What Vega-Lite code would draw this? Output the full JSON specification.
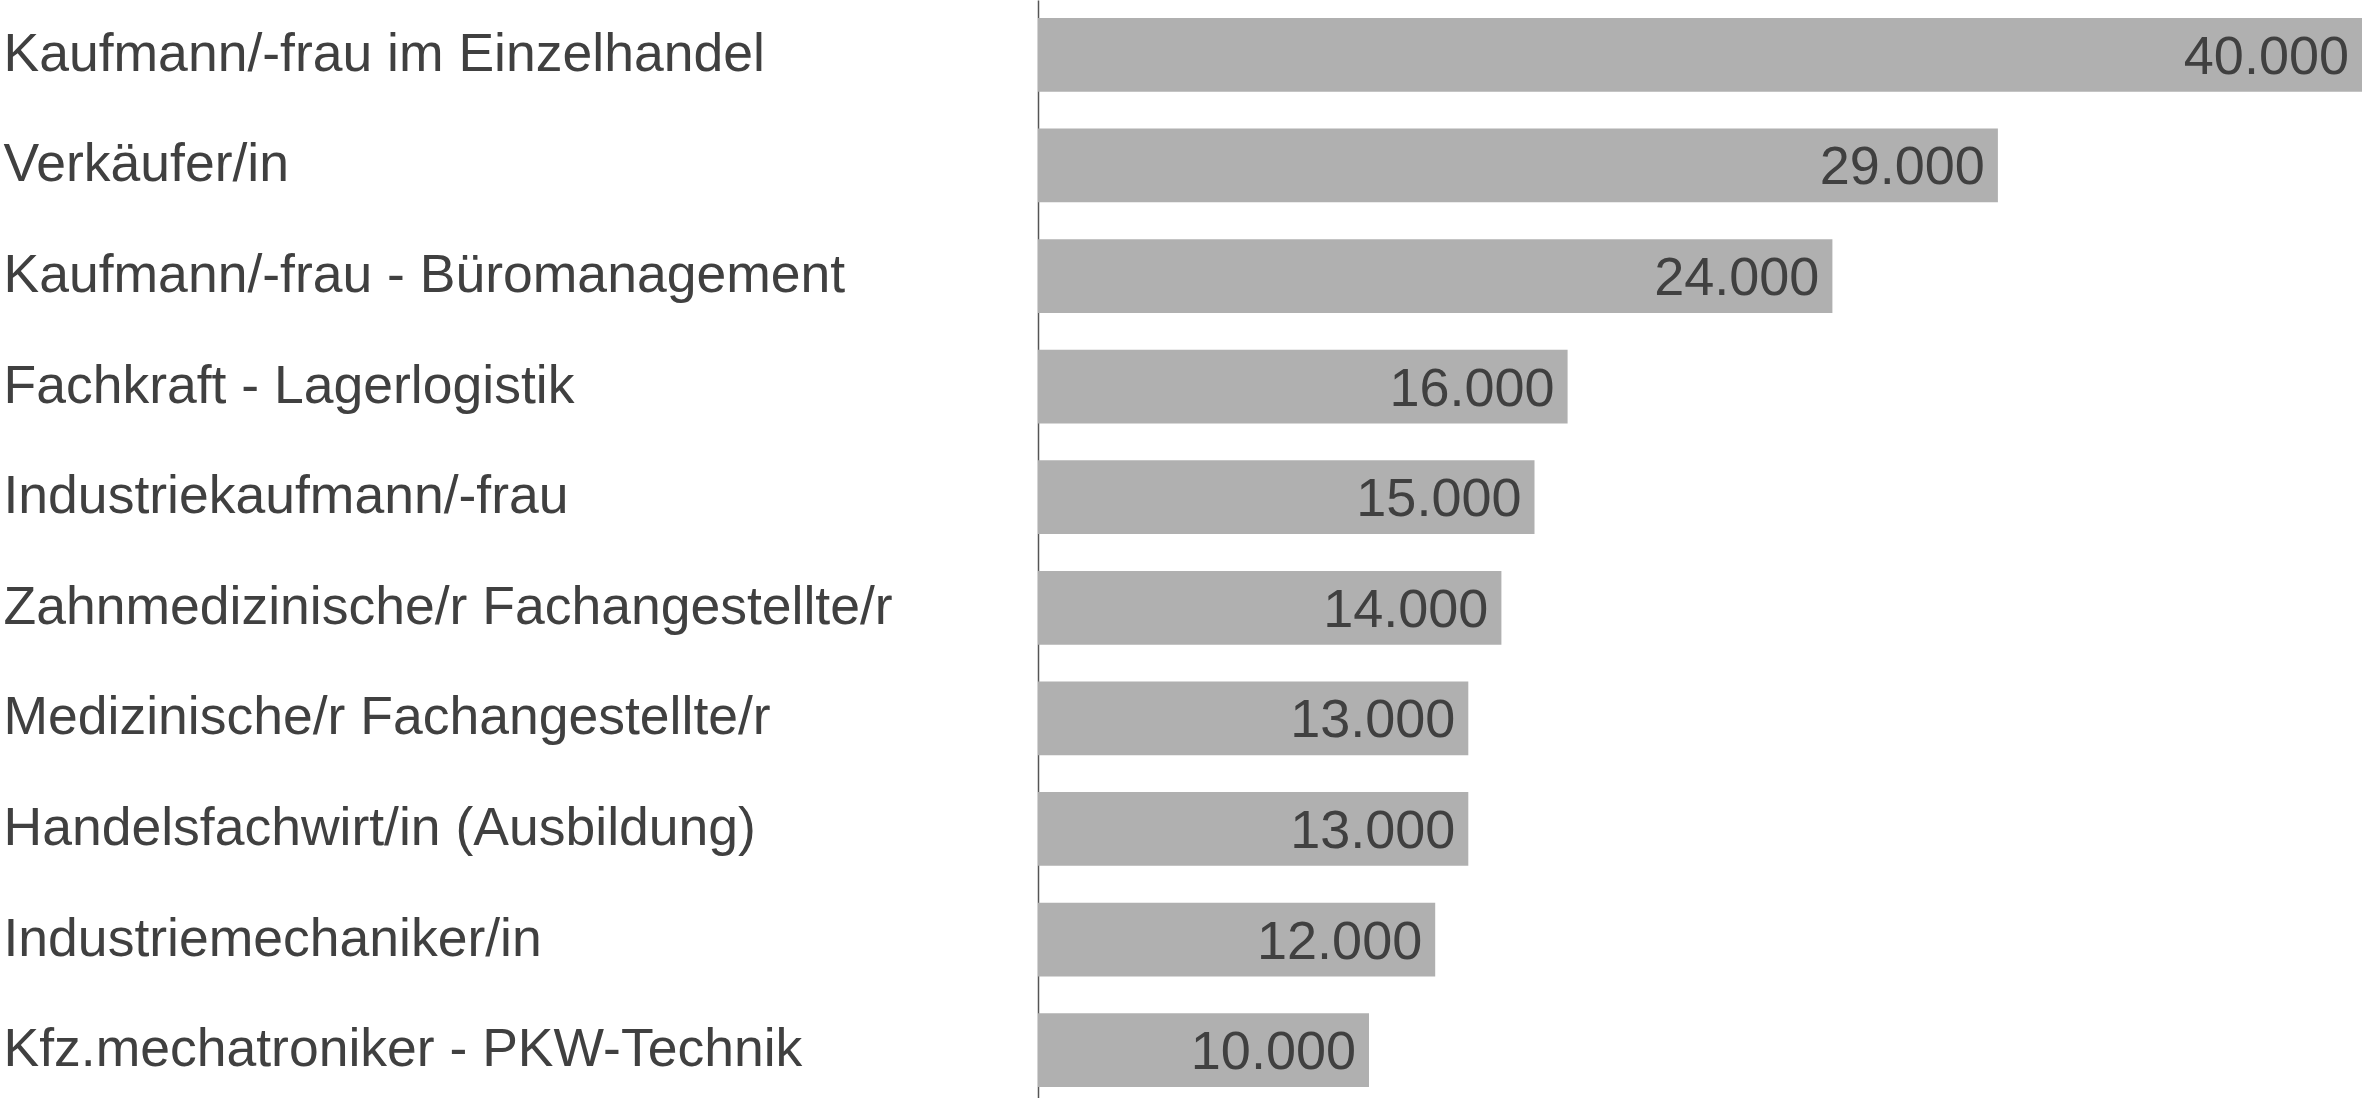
{
  "$schema": "https://vega.github.io/schema/vega-lite/v6.json",
  "width": 1324,
  "height": 1098,
  "padding": {"left": 3, "top": 0, "right": 0, "bottom": 0},
  "background": "white",
  "config": {
    "view": {"stroke": null},
    "locale": {"number": {"decimal": ",", "thousands": ".", "grouping": [3], "currency": ["", " €"]}},
    "font": "Liberation Sans"
  },
  "data": {
    "values": [
      {"beruf": "Kaufmann/-frau im Einzelhandel", "wert": 40000},
      {"beruf": "Verkäufer/in", "wert": 29000},
      {"beruf": "Kaufmann/-frau - Büromanagement", "wert": 24000},
      {"beruf": "Fachkraft - Lagerlogistik", "wert": 16000},
      {"beruf": "Industriekaufmann/-frau", "wert": 15000},
      {"beruf": "Zahnmedizinische/r Fachangestellte/r", "wert": 14000},
      {"beruf": "Medizinische/r Fachangestellte/r", "wert": 13000},
      {"beruf": "Handelsfachwirt/in (Ausbildung)", "wert": 13000},
      {"beruf": "Industriemechaniker/in", "wert": 12000},
      {"beruf": "Kfz.mechatroniker - PKW-Technik", "wert": 10000}
    ]
  },
  "encoding": {
    "y": {
      "field": "beruf",
      "type": "nominal",
      "sort": null,
      "scale": {"paddingInner": 0.333, "paddingOuter": 0.131, "align": 0.62},
      "axis": {
        "title": null,
        "ticks": false,
        "domain": true,
        "domainColor": "#555555",
        "domainWidth": 1.5,
        "labelAlign": "left",
        "labelBaseline": "middle",
        "labelPadding": 1035,
        "labelFont": "Liberation Sans",
        "labelFontSize": 53.5,
        "labelColor": "#404040",
        "labelLimit": 1100
      }
    },
    "x": {
      "field": "wert",
      "type": "quantitative",
      "scale": {"domain": [0, 40000], "nice": false},
      "axis": null
    }
  },
  "layer": [
    {"mark": {"type": "bar", "color": "#b0b0b0"}},
    {
      "mark": {"type": "text", "align": "right", "baseline": "middle", "dx": -13, "dy": 3, "font": "Liberation Sans", "fontSize": 54, "color": "#404040"},
      "encoding": {"text": {"field": "wert", "type": "quantitative", "format": ",d"}}
    }
  ]
}
